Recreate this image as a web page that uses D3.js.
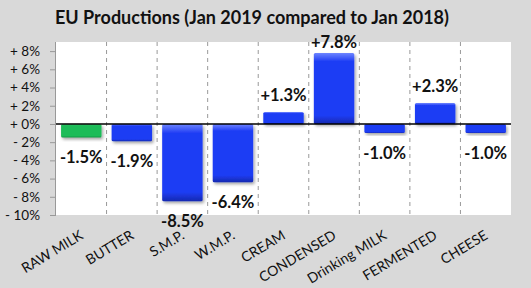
<!DOCTYPE html>
<html>
<head>
<meta charset="utf-8">
<script src="https://cdn.jsdelivr.net/npm/d3@7"></script>
<style>
  body { margin: 0; background: #d9d9d9; }
  svg { display: block; font-family: Lato, "Open Sans", sans-serif; }
</style>
</head>
<body>
<script>
// chart data
const categories = ["RAW MILK", "BUTTER", "S.M.P.", "W.M.P.", "CREAM", "CONDENSED", "Drinking MILK", "FERMENTED", "CHEESE"];
const changes = [-1.5, -1.9, -8.5, -6.4, 1.3, 7.8, -1.0, 2.3, -1.0];
const yTicks = [-10, -8, -6, -4, -2, 0, 2, 4, 6, 8];

const W = 531, H = 288;
const m = { left: 56, right: 20, top: 42, bottom: 73 };

const svg = d3.select("body").append("svg")
  .attr("width", W)
  .attr("height", H);

// gradients for the bevelled bars
const defs = svg.append("defs");
function bevel(id, light, base, dark) {
  const g = defs.append("linearGradient").attr("id", id)
    .attr("x1", 0).attr("y1", 0).attr("x2", 0).attr("y2", 1);
  g.append("stop").attr("offset", "0%").attr("stop-color", light);
  g.append("stop").attr("offset", "12%").attr("stop-color", base);
  g.append("stop").attr("offset", "88%").attr("stop-color", base);
  g.append("stop").attr("offset", "100%").attr("stop-color", dark);
}
bevel("gBlue", "#6f86ff", "#1f3df4", "#1429b0");
bevel("gGreen", "#6ae39a", "#1cbc58", "#0f8c3e");
const f = defs.append("filter").attr("id", "shadow")
  .attr("x", "-20%").attr("y", "-20%").attr("width", "140%").attr("height", "150%");
f.append("feDropShadow").attr("dx", 1.5).attr("dy", 2).attr("stdDeviation", 1.5)
  .attr("flood-color", "#000").attr("flood-opacity", 0.35);

// title
svg.append("text")
  .attr("x", 252).attr("y", 24)
  .attr("text-anchor", "middle")
  .attr("font-size", 18).attr("font-weight", "bold")
  .attr("fill", "#111")
  .text("EU Productions (Jan 2019 compared to Jan 2018)");

const x = d3.scaleBand()
  .domain(categories)
  .range([m.left, W - m.right])
  .paddingInner(0.2).paddingOuter(0.1);

const y = d3.scaleLinear()
  .domain([-10, 9])
  .range([H - m.bottom, m.top]);

// white plot area
svg.append("rect")
  .attr("x", m.left).attr("y", m.top)
  .attr("width", W - m.right - m.left)
  .attr("height", H - m.bottom - m.top)
  .attr("fill", "#fff");

// dashed separators between categories
const step = x.step();
svg.append("g").selectAll("line")
  .data(categories.slice(1))
  .join("line")
  .attr("x1", d => x(d) - step * 0.1)
  .attr("x2", d => x(d) - step * 0.1)
  .attr("y1", m.top).attr("y2", H - m.bottom)
  .attr("stroke", "#999")
  .attr("stroke-dasharray", "4,4")
  .attr("stroke-width", 1);

// y axis
const yAxis = svg.append("g")
  .attr("transform", `translate(${m.left},0)`)
  .call(d3.axisLeft(y).tickValues(yTicks).tickSize(6).tickPadding(10)
    .tickFormat(d => (d < 0 ? "- " : "+ ") + Math.abs(d) + "%"));
yAxis.select(".domain").attr("stroke", "#999").attr("d", `M-0.5,${m.top}V${H - m.bottom}`);
yAxis.selectAll(".tick line").attr("stroke", "#999");
yAxis.selectAll(".tick text").attr("font-size", 13.5).attr("fill", "#111")
  .attr("font-family", "Lato, sans-serif");

// bars
svg.append("g").selectAll("rect")
  .data(changes)
  .join("rect")
  .attr("x", (d, i) => x(categories[i]))
  .attr("width", x.bandwidth())
  .attr("y", d => y(Math.max(0, d)))
  .attr("height", d => Math.abs(y(d) - y(0)))
  .attr("rx", 1.5)
  .attr("fill", (d, i) => i === 0 ? "url(#gGreen)" : "url(#gBlue)")
  .attr("filter", "url(#shadow)");

// zero line
svg.append("line")
  .attr("x1", m.left).attr("x2", W - m.right)
  .attr("y1", y(0)).attr("y2", y(0))
  .attr("stroke", "#000").attr("stroke-width", 1.5);

// value labels
svg.append("g").selectAll("text")
  .data(changes)
  .join("text")
  .attr("x", (d, i) => x(categories[i]) + x.bandwidth() / 2)
  .attr("y", d => d >= 0 ? Math.max(y(d) - 17, 42) : y(d) + 20)
  .attr("dy", "0.35em")
  .attr("text-anchor", "middle")
  .attr("font-size", 16.5).attr("font-weight", "bold")
  .attr("fill", "#111")
  .text(d => (d > 0 ? "+" : "") + d.toFixed(1) + "%");

// category labels
svg.append("g").selectAll("text")
  .data(categories)
  .join("text")
  .attr("transform", d => `translate(${x(d) + x.bandwidth() / 2 + 3},${H - m.bottom + 23}) rotate(-31)`)
  .attr("text-anchor", "end")
  .attr("font-size", 14)
  .attr("fill", "#111")
  .text(d => d);
</script>
</body>
</html>
